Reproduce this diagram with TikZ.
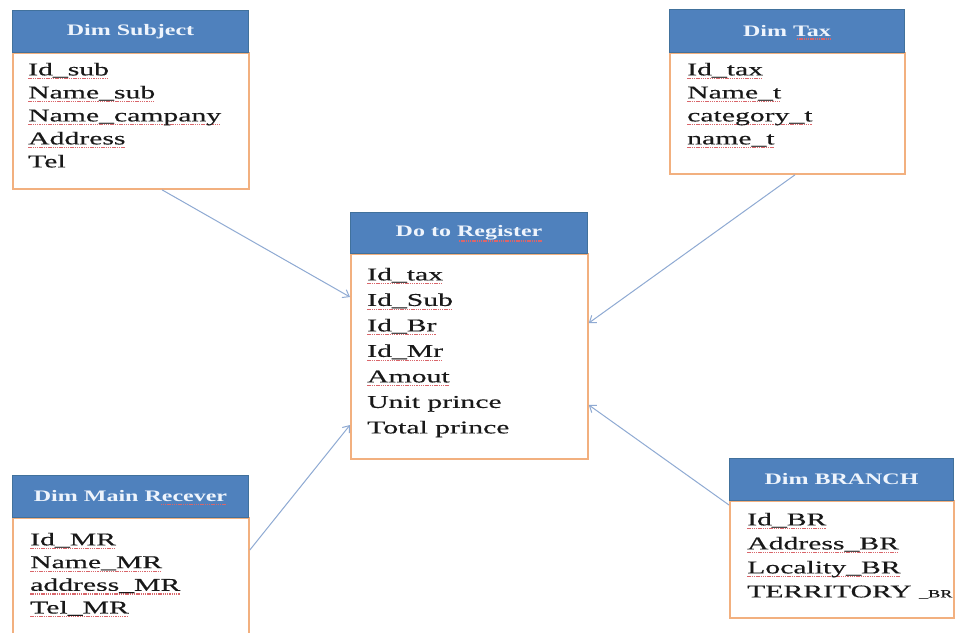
\documentclass[tikz,border=0pt]{standalone}
\usepackage{fontspec}
\usetikzlibrary{arrows.meta}
\setmainfont{Liberation Serif}
\newfontfamily\fieldfont[FakeStretch=1.65,FakeBold=0.4]{Liberation Serif}
\newfontfamily\headfont[FakeStretch=1.5]{Liberation Serif}
\definecolor{hdr}{HTML}{4F81BD}
\definecolor{hdrline}{HTML}{41719C}
\definecolor{bodyline}{HTML}{F2B07F}
\definecolor{conn}{HTML}{8FAAD3}
\definecolor{spell}{HTML}{D9666B}
\definecolor{hdrtext}{HTML}{EEF4FC}
\newcommand\sq[1]{\leavevmode\setbox0=\hbox{#1}\rlap{\lower3.8pt\hbox to\wd0{\color{spell}\xleaders\hbox{\rule{1.4pt}{1.1pt}\kern0.8pt}\hfill}}\box0}
\tikzset{
  body/.style={draw=bodyline, line width=1.8pt, fill=white, anchor=north west, inner sep=0pt},
  header/.style={draw=hdrline, line width=1pt, fill=hdr, anchor=north west, inner sep=0pt,
     text=hdrtext, font=\headfont\bfseries\fontsize{16}{18}\selectfont},
  fields/.style={anchor=north west, inner sep=0pt, align=left, text=black!90},
  link/.style={draw=conn, line width=1pt, -{Straight Barb[length=6pt,width=9pt]}},
  spelline/.style={draw=spell, line width=1.1pt, dash pattern=on 1.4pt off 0.8pt}
}
\begin{document}
\begin{tikzpicture}[x=1pt,y=-1pt]
\useasboundingbox[fill=white] (0,0) rectangle (955,632);

% Dim Subject
\node[body, minimum width=236pt, minimum height=136pt] (subB) at (12,52) {};
\node[header, minimum width=236pt, minimum height=42pt] (subH) at (12,10) {Dim Subject};
\node[fields, font=\fieldfont\fontsize{18}{23}\selectfont] (subF) at (28,62.7)
  {\sq{Id\_sub}\\ \sq{Name\_sub}\\ \sq{Name\_campany}\\ \sq{Address}\\ Tel};

% Dim Tax
\node[body, minimum width=235pt, minimum height=121pt] (taxB) at (669,52) {};
\node[header, minimum width=235pt, minimum height=43pt] (taxH) at (669,9) {Dim Tax};
\draw[spelline] ([xshift=10pt,yshift=-8pt]taxH.center) -- ([xshift=44pt,yshift=-8pt]taxH.center);
\node[fields, font=\fieldfont\fontsize{18}{23}\selectfont] (taxF) at (687,62.7)
  {\sq{Id\_tax}\\ \sq{Name\_t}\\ \sq{category\_t}\\ \sq{name\_t}};

% Do to Register
\node[body, minimum width=237pt, minimum height=205pt] (regB) at (350,253) {};
\node[header, minimum width=237pt, minimum height=41pt] (regH) at (350,212) {Do to Register};
\draw[spelline] ([xshift=-10pt,yshift=-8pt]regH.center) -- ([xshift=73pt,yshift=-8pt]regH.center);
\node[fields, font=\fieldfont\fontsize{18}{25.5}\selectfont] (regF) at (367,267.7)
  {\sq{Id\_tax}\\ \sq{Id\_Sub}\\ \sq{Id\_Br}\\ \sq{Id\_Mr}\\ \sq{Amout}\\ Unit prince\\ Total prince};

% Dim Main Recever
\node[body, minimum width=236pt, minimum height=123pt] (recB) at (12,517) {};
\node[header, minimum width=236pt, minimum height=42pt] (recH) at (12,475) {Dim Main Recever};
\draw[spelline] ([xshift=30pt,yshift=-8pt]recH.center) -- ([xshift=96pt,yshift=-8pt]recH.center);
\node[fields, font=\fieldfont\fontsize{18}{22.7}\selectfont] (recF) at (30,532.7)
  {\sq{Id\_MR}\\ \sq{Name\_MR}\\ \sq{address\_MR}\\ \sq{Tel\_MR}};

% Dim BRANCH
\node[body, minimum width=224pt, minimum height=117pt] (brB) at (729,500) {};
\node[header, minimum width=224pt, minimum height=42pt] (brH) at (729,458) {Dim BRANCH};
\node[fields, font=\fieldfont\fontsize{18}{24}\selectfont] (brF) at (747,512.7)
  {\sq{Id\_BR}\\ \sq{Address\_BR}\\ \sq{Locality\_BR}\\ TERRITORY {\fontsize{11}{11}\selectfont\_BR}};

% connectors
\draw[link] ([xshift=150pt]subB.south west) -- ([yshift=-44pt]regB.north west);
\draw[link] ([yshift=-33pt]recB.north east) -- ([yshift=-172pt]regB.north west);
\draw[link] ([xshift=126pt]taxB.south west) -- ([yshift=-70pt]regB.north east);
\draw[link] ([yshift=-5pt]brB.north west) -- ([yshift=-152pt]regB.north east);
\end{tikzpicture}
\end{document}
